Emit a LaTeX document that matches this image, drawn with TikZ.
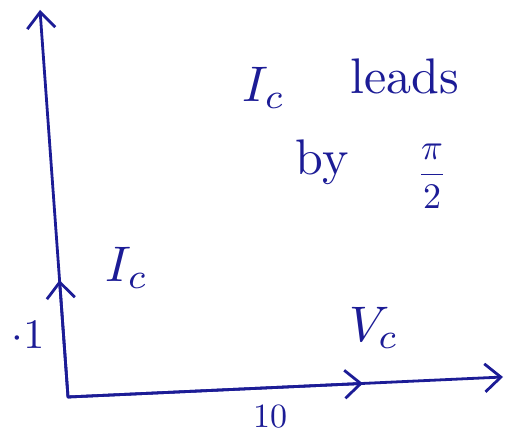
\documentclass[tikz,border=0pt]{standalone}
\usepackage{graphicx}
\usepackage{amsmath}
\usetikzlibrary{arrows.meta,calc}
\definecolor{ink}{RGB}{28,28,150}
\newcommand{\bigtxt}[1]{\scalebox{5.0}{#1}}
\newcommand{\smtxt}[1]{\scalebox{3.4}{#1}}
\begin{document}
\begin{tikzpicture}[x=1pt,y=-1pt,
  pen/.style={draw=ink,line width=2.8pt,line cap=round,line join=round},
  barb/.style={-{Straight Barb[length=16pt,width=28pt,line width=2.8pt]}},
  lbl/.style={text=ink,inner sep=0pt}]
\useasboundingbox (0,0) rectangle (512,435);
\coordinate (O) at (68,397);
\coordinate (T) at (40,10);
\coordinate (E) at (503,377);
\coordinate (Ic) at ($(O)!0.302!(T)$);
\coordinate (Vc) at ($(O)!0.678!(E)$);
% axes and phasors
\draw[pen,barb] (O) -- (T);
\draw[pen,barb] (O) -- (Ic);
\draw[pen,barb] (O) -- (E);
\draw[pen,barb] (O) -- (Vc);
% labels
\node[lbl] (lic) at (127,268) {\bigtxt{$I_c$}};
\node[lbl] (lone) at (28,335) {\scalebox{4.2}{$\cdot 1$}};
\node[lbl] (lvc) at (374,328) {\bigtxt{$V_c$}};
\node[lbl] (lten) at (270,417) {\smtxt{10}};
\node[lbl] (t1) at (264,88) {\bigtxt{$I_c$}};
\node[lbl] (t2) at (405,76) {\bigtxt{leads}};
\node[lbl] (t3) at (322,162) {\bigtxt{by}};
\node[lbl] (t4) at (432,176) {\scalebox{3.6}{$\dfrac{\pi}{2}$}};
\end{tikzpicture}
\end{document}
